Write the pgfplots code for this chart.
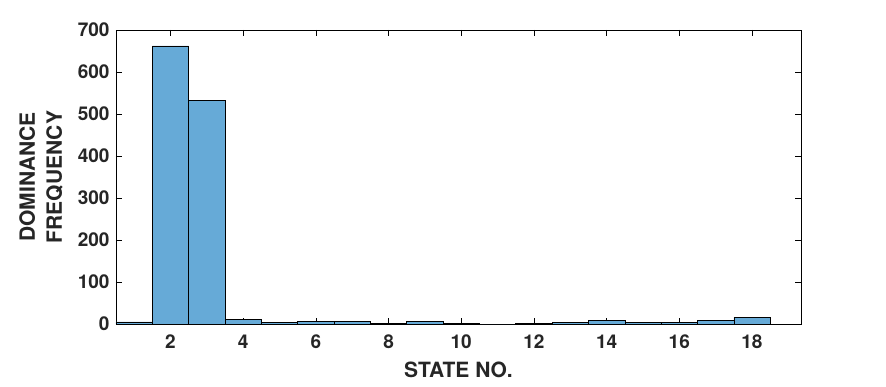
\documentclass[border=0pt]{standalone}
\usepackage{pgfplots}
\pgfplotsset{compat=1.18}
\usepackage{fontspec}
\setmainfont{TeX Gyre Heros}
\definecolor{barblue}{RGB}{102,170,215}
\begin{document}
\begin{tikzpicture}[x=1pt,y=1pt]
\useasboundingbox (-116,-62) rectangle (770,324);
\begin{axis}[
  at={(0,0)}, anchor=south west,
  scale only axis, width=685pt, height=294pt,
  xmin=0.5, xmax=19.35, ymin=0, ymax=700,
  xtick={2,4,...,18}, ytick={0,100,...,700},
  tick align=inside, major tick length=6pt,
  tick style={black, line width=0.5pt},
  axis line style={black, line width=0.6pt},
  /pgf/number format/assume math mode=true,
  ticklabel style={font=\fontsize{19}{20}\selectfont\bfseries, text=black!85},
  xticklabel style={yshift=-7pt},
  yticklabel style={xshift=-3pt},
  xlabel={STATE NO.},
  ylabel={DOMINANCE\\FREQUENCY},
  label style={font=\fontsize{21}{27}\selectfont\bfseries, text=black!85, align=center},
  xlabel style={at={(axis description cs:0.5,-0.1565)}, anchor=center},
  ylabel style={at={(axis description cs:-0.1095,0.5)}, anchor=center},
]
\addplot[ybar interval, fill=barblue, draw=black, line width=0.5pt] coordinates {
(0.5,5) (1.5,662) (2.5,532) (3.5,11) (4.5,4) (5.5,6) (6.5,6) (7.5,2) (8.5,6) (9.5,2) (10.5,0) (11.5,1) (12.5,3) (13.5,9) (14.5,3) (15.5,3) (16.5,8) (17.5,16) (18.5,16)
};
\end{axis}
\end{tikzpicture}
\end{document}
